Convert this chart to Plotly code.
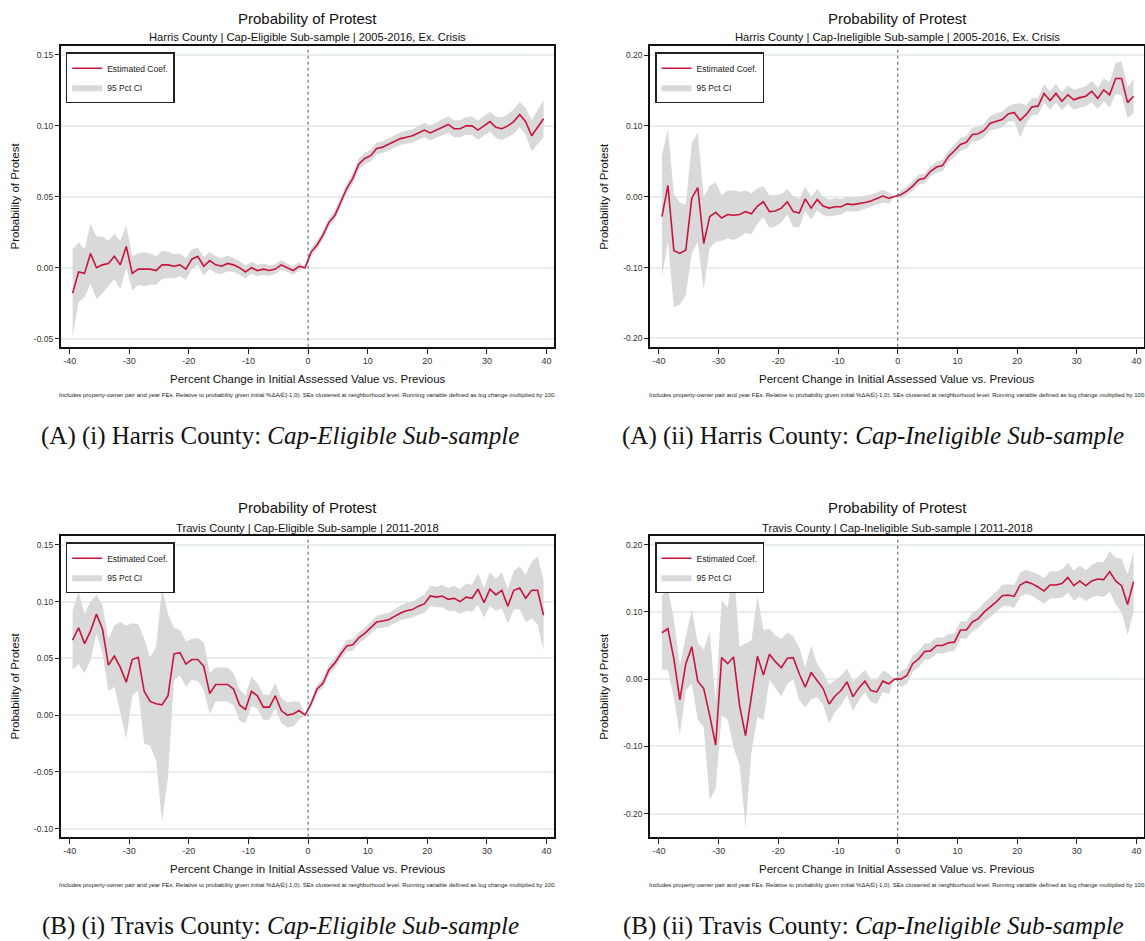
import plotly.graph_objects as go

FONT = "Liberation Sans, Arial, Helvetica, sans-serif"
SERIF = "Liberation Serif, Times New Roman, serif"
W, H = 1145, 941
RED = "#c8143c"
CI_FILL = "#d9d9d9"
GRID = "#e6eef0"

# Bin midpoints of the running variable (percent change, log x 100)
bin_mid = [
    -39.5, -38.5, -37.5, -36.5, -35.5, -34.5, -33.5, -32.5, -31.5, -30.5,
    -29.5, -28.5, -27.5, -26.5, -25.5, -24.5, -23.5, -22.5, -21.5, -20.5,
    -19.5, -18.5, -17.5, -16.5, -15.5, -14.5, -13.5, -12.5, -11.5, -10.5,
    -9.5, -8.5, -7.5, -6.5, -5.5, -4.5, -3.5, -2.5, -1.5, -0.5,
    0.5, 1.5, 2.5, 3.5, 4.5, 5.5, 6.5, 7.5, 8.5, 9.5,
    10.5, 11.5, 12.5, 13.5, 14.5, 15.5, 16.5, 17.5, 18.5, 19.5,
    20.5, 21.5, 22.5, 23.5, 24.5, 25.5, 26.5, 27.5, 28.5, 29.5,
    30.5, 31.5, 32.5, 33.5, 34.5, 35.5, 36.5, 37.5, 38.5, 39.5,
]

x_ticks = [-40, -30, -20, -10, 0, 10, 20, 30, 40]
x_tick_text = ["-40", "-30", "-20", "-10", "0", "10", "20", "30", "40"]

# Harris County, cap-eligible: estimated coefficient and 95% CI half-width
harris_elig_coef = [
    -0.018, -0.003, -0.004, 0.010, 0.000, 0.002, 0.003, 0.008, 0.002, 0.015,
    -0.004, -0.001, -0.001, -0.001, -0.002, 0.002, 0.002, 0.001, 0.002, -0.001,
    0.006, 0.008, 0.001, 0.005, 0.002, 0.001, 0.003, 0.002, 0.000, -0.003,
    0.000, -0.002, -0.001, -0.002, -0.001, 0.002, 0.000, -0.002, 0.001, 0.000,
    0.011, 0.016, 0.023, 0.032, 0.037, 0.046, 0.056, 0.063, 0.073, 0.077,
    0.079, 0.084, 0.085, 0.087, 0.089, 0.091, 0.092, 0.093, 0.095, 0.097,
    0.095, 0.097, 0.099, 0.101, 0.098, 0.098, 0.100, 0.100, 0.097, 0.100,
    0.103, 0.099, 0.098, 0.100, 0.103, 0.108, 0.103, 0.093, 0.099, 0.105,
]
harris_elig_ci = [
    0.031, 0.021, 0.017, 0.021, 0.022, 0.020, 0.016, 0.016, 0.017, 0.015,
    0.012, 0.011, 0.012, 0.011, 0.010, 0.010, 0.0095, 0.0085, 0.008, 0.0075,
    0.007, 0.006, 0.0065, 0.006, 0.006, 0.0055, 0.0055, 0.005, 0.0048, 0.0045,
    0.0042, 0.004, 0.004, 0.0037, 0.0035, 0.0035, 0.003, 0.003, 0.003, 0.0,
    0.003, 0.003, 0.003, 0.003, 0.0035, 0.0035, 0.0035, 0.004, 0.004, 0.004,
    0.004, 0.0042, 0.0042, 0.0043, 0.0045, 0.0045, 0.0045, 0.0047, 0.005, 0.005,
    0.0052, 0.0055, 0.0055, 0.0058, 0.006, 0.006, 0.0062, 0.0065, 0.0068, 0.007,
    0.007, 0.0075, 0.008, 0.008, 0.0085, 0.009, 0.0095, 0.011, 0.012, 0.013,
]

# Harris County, cap-ineligible
harris_inel_coef = [
    -0.028, 0.016, -0.076, -0.080, -0.075, -0.002, 0.013, -0.066, -0.028, -0.022,
    -0.030, -0.025, -0.026, -0.025, -0.021, -0.024, -0.013, -0.007, -0.021, -0.020,
    -0.016, -0.007, -0.021, -0.023, -0.003, -0.016, -0.004, -0.013, -0.016, -0.014,
    -0.014, -0.010, -0.011, -0.010, -0.008, -0.006, -0.003, 0.001, -0.002, 0.000,
    0.003, 0.008, 0.015, 0.024, 0.026, 0.036, 0.042, 0.044, 0.057, 0.065,
    0.074, 0.077, 0.088, 0.089, 0.094, 0.104, 0.107, 0.109, 0.117, 0.119,
    0.108, 0.116, 0.127, 0.128, 0.146, 0.136, 0.146, 0.135, 0.144, 0.137,
    0.140, 0.142, 0.149, 0.139, 0.151, 0.144, 0.167, 0.167, 0.133, 0.142,
]
harris_inel_ci = [
    0.086, 0.080, 0.080, 0.072, 0.064, 0.078, 0.077, 0.065, 0.044, 0.042,
    0.032, 0.034, 0.035, 0.032, 0.030, 0.029, 0.025, 0.022, 0.023, 0.022,
    0.020, 0.018, 0.022, 0.020, 0.017, 0.016, 0.015, 0.013, 0.012, 0.012,
    0.011, 0.010, 0.010, 0.010, 0.009, 0.009, 0.009, 0.009, 0.008, 0.0,
    0.006, 0.006, 0.007, 0.007, 0.007, 0.007, 0.008, 0.008, 0.008, 0.009,
    0.009, 0.009, 0.010, 0.010, 0.010, 0.010, 0.011, 0.011, 0.011, 0.012,
    0.024, 0.013, 0.012, 0.012, 0.013, 0.013, 0.013, 0.013, 0.013, 0.014,
    0.014, 0.014, 0.015, 0.015, 0.016, 0.018, 0.022, 0.024, 0.022, 0.024,
]

# Travis County, cap-eligible
travis_elig_coef = [
    0.066, 0.077, 0.063, 0.074, 0.089, 0.076, 0.044, 0.052, 0.042, 0.029,
    0.049, 0.051, 0.021, 0.012, 0.010, 0.009, 0.017, 0.054, 0.055, 0.045,
    0.049, 0.049, 0.043, 0.019, 0.027, 0.027, 0.027, 0.023, 0.009, 0.005,
    0.021, 0.017, 0.007, 0.007, 0.017, 0.004, 0.000, 0.001, 0.004, 0.000,
    0.010, 0.023, 0.028, 0.040, 0.046, 0.054, 0.061, 0.062, 0.068, 0.072,
    0.077, 0.082, 0.083, 0.084, 0.087, 0.090, 0.092, 0.093, 0.096, 0.098,
    0.105, 0.104, 0.105, 0.102, 0.103, 0.100, 0.104, 0.103, 0.111, 0.099,
    0.111, 0.106, 0.110, 0.096, 0.110, 0.112, 0.103, 0.110, 0.110, 0.088,
]
travis_elig_ci = [
    0.026, 0.032, 0.026, 0.026, 0.017, 0.021, 0.023, 0.027, 0.040, 0.050,
    0.032, 0.029, 0.046, 0.039, 0.050, 0.103, 0.072, 0.023, 0.020, 0.020,
    0.018, 0.019, 0.021, 0.018, 0.015, 0.015, 0.015, 0.014, 0.014, 0.012,
    0.013, 0.011, 0.011, 0.011, 0.011, 0.011, 0.011, 0.011, 0.008, 0.0,
    0.004, 0.004, 0.004, 0.0045, 0.0045, 0.0045, 0.005, 0.005, 0.005, 0.005,
    0.0055, 0.0055, 0.006, 0.006, 0.006, 0.0065, 0.007, 0.007, 0.0075, 0.008,
    0.009, 0.009, 0.010, 0.010, 0.011, 0.011, 0.012, 0.012, 0.014, 0.013,
    0.015, 0.014, 0.016, 0.015, 0.017, 0.019, 0.021, 0.025, 0.030, 0.031,
]

# Travis County, cap-ineligible
travis_inel_coef = [
    0.069, 0.075, 0.030, -0.031, 0.023, 0.048, -0.003, -0.014, -0.054, -0.098,
    0.032, 0.023, 0.033, -0.039, -0.084, -0.025, 0.034, 0.006, 0.037, 0.026,
    0.017, 0.031, 0.032, 0.008, -0.012, 0.010, -0.002, -0.014, -0.037, -0.025,
    -0.017, -0.004, -0.026, -0.013, -0.003, -0.017, -0.019, -0.003, -0.007, 0.000,
    0.000, 0.005, 0.023, 0.030, 0.041, 0.042, 0.050, 0.050, 0.054, 0.055,
    0.073, 0.073, 0.085, 0.090, 0.100, 0.107, 0.115, 0.124, 0.125, 0.123,
    0.140, 0.145, 0.142, 0.137, 0.131, 0.140, 0.140, 0.142, 0.151, 0.139,
    0.146, 0.139, 0.146, 0.149, 0.148, 0.160, 0.146, 0.139, 0.111, 0.145,
]
travis_inel_ci = [
    0.055, 0.061, 0.058, 0.052, 0.040, 0.055, 0.057, 0.058, 0.125, 0.065,
    0.086, 0.083, 0.135, 0.088, 0.137, 0.083, 0.090, 0.067, 0.038, 0.039,
    0.043, 0.038, 0.032, 0.039, 0.030, 0.040, 0.025, 0.024, 0.029, 0.024,
    0.022, 0.020, 0.022, 0.018, 0.017, 0.017, 0.018, 0.016, 0.015, 0.0,
    0.012, 0.012, 0.012, 0.012, 0.012, 0.012, 0.012, 0.012, 0.013, 0.013,
    0.013, 0.013, 0.014, 0.014, 0.014, 0.015, 0.015, 0.016, 0.016, 0.017,
    0.018, 0.018, 0.018, 0.019, 0.019, 0.020, 0.020, 0.021, 0.022, 0.022,
    0.023, 0.023, 0.024, 0.025, 0.026, 0.030, 0.035, 0.040, 0.045, 0.045,
]

yticks_small = [-0.05, 0.0, 0.05, 0.10, 0.15]
yticks_small_text = ["-0.05", "0.00", "0.05", "0.10", "0.15"]
yticks_mid = [-0.10, -0.05, 0.0, 0.05, 0.10, 0.15]
yticks_mid_text = ["-0.10", "-0.05", "0.00", "0.05", "0.10", "0.15"]
yticks_wide = [-0.20, -0.10, 0.0, 0.10, 0.20]
yticks_wide_text = ["-0.20", "-0.10", "0.00", "0.10", "0.20"]

chart_title = "Probability of Protest"
y_title = "Probability of Protest"
x_title = "Percent Change in Initial Assessed Value vs. Previous"
footnote = ("Includes property-owner pair and year FEs. Relative to probability given initial "
            "%\u0394A\u209c\u2208[-1,0). SEs clustered at neighborhood level. "
            "Running variable defined as log change multiplied by 100.")

panels = [
    dict(coef=harris_elig_coef, ci=harris_elig_ci, col=0, row=0,
         yrange=[-0.0557, 0.1561], yt=yticks_small, ytt=yticks_small_text,
         sub="Harris County | Cap-Eligible Sub-sample | 2005-2016, Ex. Crisis",
         cap="(A) (i) Harris County: <i>Cap-Eligible Sub-sample</i>"),
    dict(coef=harris_inel_coef, ci=harris_inel_ci, col=1, row=0,
         yrange=[-0.2117, 0.2125], yt=yticks_wide, ytt=yticks_wide_text,
         sub="Harris County | Cap-Ineligible Sub-sample | 2005-2016, Ex. Crisis",
         cap="(A) (ii) Harris County: <i>Cap-Ineligible Sub-sample</i>"),
    dict(coef=travis_elig_coef, ci=travis_elig_ci, col=0, row=1,
         yrange=[-0.1072, 0.1576], yt=yticks_mid, ytt=yticks_mid_text,
         sub="Travis County | Cap-Eligible Sub-sample | 2011-2018",
         cap="(B) (i) Travis County: <i>Cap-Eligible Sub-sample</i>"),
    dict(coef=travis_inel_coef, ci=travis_inel_ci, col=1, row=1,
         yrange=[-0.2343, 0.2124], yt=yticks_wide, ytt=yticks_wide_text,
         sub="Travis County | Cap-Ineligible Sub-sample | 2011-2018",
         cap="(B) (ii) Travis County: <i>Cap-Ineligible Sub-sample</i>"),
]

# Pixel geometry of the plot frames
COL_X = [(60.7, 554.3), (650.0, 1144.3)]
COL_SHIFT = [0.0, 589.3]
CAP_X = [280.0, 873.0]
ROW_SHIFT = [0.0, 490.0]
FRAME_TOP, FRAME_BOT = 46.3, 346.7


def px(x):
    return x / W


def py(y):
    return 1 - y / H


fig = go.Figure()
layout = dict(
    width=W, height=H, template="none",
    margin=dict(l=0, r=0, t=0, b=0, pad=0),
    paper_bgcolor="white", plot_bgcolor="white",
    font=dict(family=FONT, color="#222"),
    showlegend=True,
)
annotations = []
shapes = []

for i, p in enumerate(panels):
    n = "" if i == 0 else str(i + 1)
    xa, ya, lg = "x" + n, "y" + n, "legend" + n
    assert len(p["coef"]) == len(bin_mid) == len(p["ci"])
    lo = [c - h for c, h in zip(p["coef"], p["ci"])]
    hi = [c + h for c, h in zip(p["coef"], p["ci"])]

    fig.add_trace(go.Scatter(
        x=bin_mid, y=lo, xaxis=xa, yaxis=ya, mode="lines",
        line=dict(width=0, color=CI_FILL), showlegend=False,
        legend=lg, hoverinfo="skip"))
    fig.add_trace(go.Scatter(
        x=bin_mid, y=hi, xaxis=xa, yaxis=ya, mode="lines",
        line=dict(width=0, color=CI_FILL), fill="tonexty", fillcolor=CI_FILL,
        name="95 Pct CI", legend=lg, legendrank=2))
    fig.add_trace(go.Scatter(
        x=bin_mid, y=p["coef"], xaxis=xa, yaxis=ya, mode="lines",
        line=dict(width=1.6, color=RED), name="Estimated Coef.",
        legend=lg, legendrank=1))

    x0, x1 = COL_X[p["col"]]
    dy = ROW_SHIFT[p["row"]]
    dx = COL_SHIFT[p["col"]]
    cx = (x0 + x1) / 2

    layout["xaxis" + n] = dict(
        domain=[px(x0), px(x1)], anchor=ya, range=[-41.5, 41.3],
        tickmode="array", tickvals=x_ticks, ticktext=x_tick_text,
        ticks="outside", ticklen=5, tickwidth=1, tickcolor="#222",
        showline=True, linecolor="#111", linewidth=1.6, mirror=True,
        showgrid=False, zeroline=False, automargin=False,
        tickfont=dict(size=9, color="#333", family=FONT))
    layout["yaxis" + n] = dict(
        domain=[py(FRAME_BOT + dy), py(FRAME_TOP + dy)], anchor=xa,
        range=p["yrange"], tickmode="array", tickvals=p["yt"], ticktext=p["ytt"],
        ticks="outside", ticklen=4, tickwidth=1, tickcolor="#222",
        showline=True, linecolor="#111", linewidth=1.6, mirror=True,
        showgrid=True, gridcolor=GRID, gridwidth=1.5, zeroline=False,
        automargin=False, tickfont=dict(size=8.5, color="#333", family=FONT))
    layout[lg] = dict(
        x=px(65.7 + dx), y=py(52.3 + dy), xanchor="left", yanchor="top",
        bgcolor="white", bordercolor="#222", borderwidth=1.5,
        font=dict(size=8.5, family=FONT, color="#222"),
        itemwidth=30, tracegroupgap=0, traceorder="normal")

    # vertical reference line at the threshold
    shapes.append(dict(type="line", xref=xa, yref=ya + " domain", x0=0, x1=0,
                       y0=0, y1=1, line=dict(color="#555", width=1, dash="3px,3px"),
                       layer="above"))

    annotations += [
        dict(text=chart_title, x=px(cx), y=py(18 + dy), xref="paper", yref="paper",
             showarrow=False, xanchor="center", yanchor="middle",
             font=dict(size=15, color="#111", family=FONT)),
        dict(text=p["sub"], x=px(cx), y=py(37.5 + dy), xref="paper", yref="paper",
             showarrow=False, xanchor="center", yanchor="middle",
             font=dict(size=11.2, color="#111", family=FONT)),
        dict(text=y_title, x=px(14 + dx), y=py((FRAME_TOP + FRAME_BOT) / 2 + dy),
             xref="paper", yref="paper", showarrow=False, textangle=-90,
             xanchor="center", yanchor="middle",
             font=dict(size=11.5, color="#111", family=FONT)),
        dict(text=x_title, x=px(cx), y=py(379 + dy), xref="paper", yref="paper",
             showarrow=False, xanchor="center", yanchor="middle",
             font=dict(size=11.5, color="#111", family=FONT)),
        dict(text=footnote, x=px(cx), y=py(395 + dy), xref="paper", yref="paper",
             showarrow=False, xanchor="center", yanchor="middle",
             font=dict(size=6, color="#222", family=FONT)),
        dict(text=p["cap"], x=px(CAP_X[p["col"]]), y=py(436 + dy), xref="paper",
             yref="paper", showarrow=False, xanchor="center", yanchor="middle",
             font=dict(size=25, color="#111", family=SERIF)),
    ]

layout["annotations"] = annotations
layout["shapes"] = shapes
fig.update_layout(**layout)
fig.write_html("out.html")
